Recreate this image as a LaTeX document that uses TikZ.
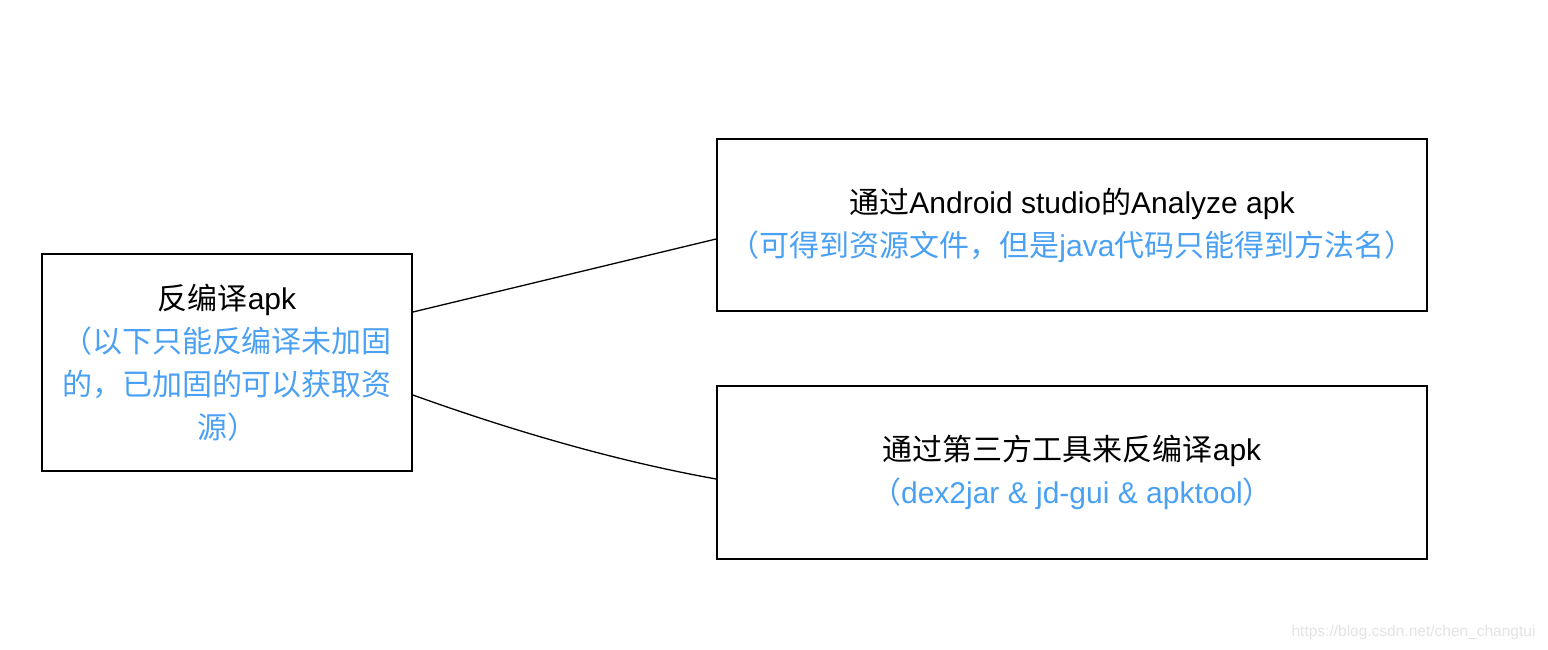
\documentclass[tikz,border=0pt]{standalone}
\usepackage{fontspec}
\setmainfont{Liberation Sans}
\newfontfamily\cjk{Noto Sans CJK SC}
\usetikzlibrary{calc}
\definecolor{hintblue}{RGB}{74,160,242}
\newcommand\zh[1]{{\cjk #1}}
\newcommand\hint[1]{\textcolor{hintblue}{#1}}

\begin{document}
\begin{tikzpicture}[
   x=1pt, y=-1pt,
   box/.style={draw,line width=1.8pt,align=center,inner sep=0pt,
               font=\fontsize{30}{43}\selectfont},
   link/.style={line width=1.3pt},
   ]
\useasboundingbox (0,0) rectangle (1548,650);
%% source box
\node[box,minimum width=370,minimum height=217] (src) at (227,362.5)
   {\zh{反编译}apk\\
    \hint{\zh{（以下只能反编译未加固}}\\
    \hint{\zh{的，已加固的可以获取资}}\\
    \hint{\zh{源）}}};
%% two ways
\node[box,minimum width=710,minimum height=172] (studio) at (1072,225)
   {\zh{通过}Android studio\zh{的}Analyze apk\\
    \hint{\zh{（可得到资源文件，但是}java\zh{代码只能得到方法名）}}};
\node[box,minimum width=710,minimum height=173] (tools) at (1072,472.5)
   {\zh{通过第三方工具来反编译}apk\\
    \hint{\zh{（}dex2jar \& jd-gui \& apktool\zh{）}}};
%% connectors
\draw[link] ($(src.east)+(0,-50.5)$) -- ($(studio.west)+(0,14)$);
\draw[link] ($(src.east)+(0,32.5)$) .. controls +(100,36) and +(-100,-18) .. ($(tools.west)+(0,6.5)$);
%% watermark
\node[font=\fontsize{15.5}{15.5}\selectfont,text=black!11,anchor=east] (mark) at (1539,632)
   {https://blog.csdn.net/chen\_changtui};
\end{tikzpicture}
\end{document}
